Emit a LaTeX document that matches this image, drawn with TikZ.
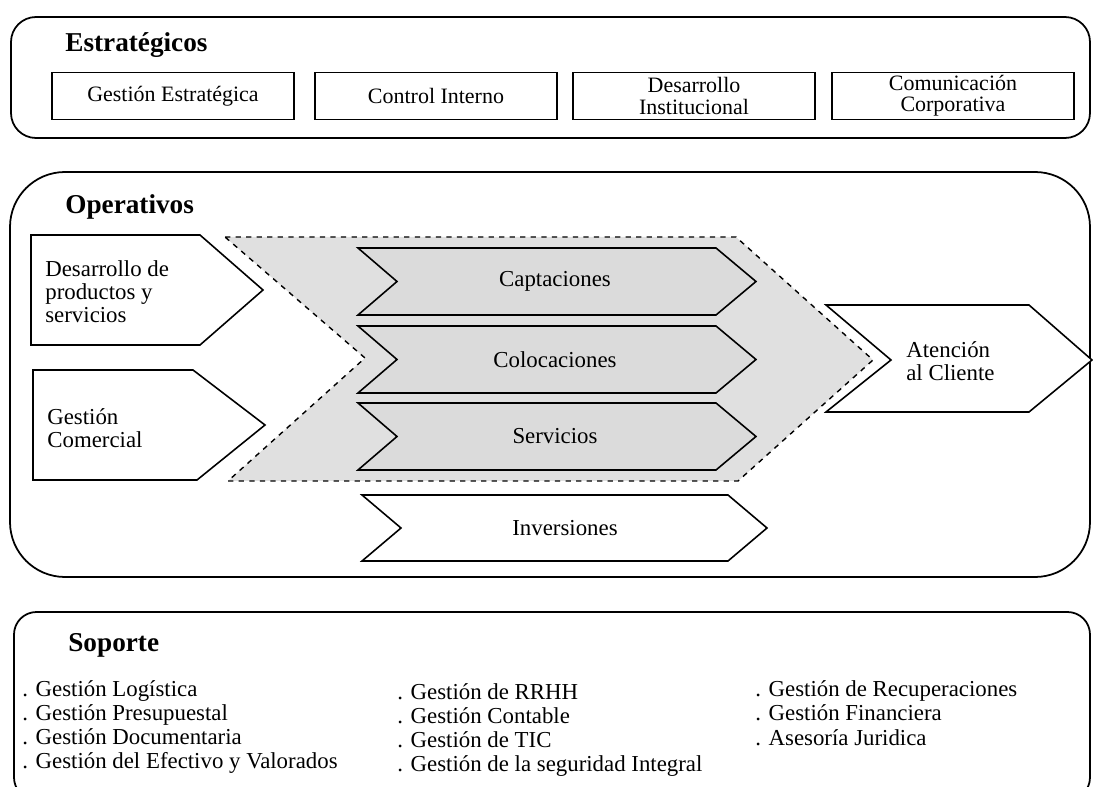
\documentclass[tikz,border=0pt]{standalone}
\usepackage{fontspec}
\setmainfont{Liberation Serif}

\begin{document}
\begin{tikzpicture}[x=0.02cm,y=-0.02cm,
    marco/.style={draw,line width=1pt},
    caja/.style={draw,line width=0.9pt,minimum width=4.84cm,minimum height=0.94cm,
      inner sep=1pt,align=center,font=\fontsize{12.5}{12}\selectfont},
    flecha/.style={draw,line width=0.9pt,line join=miter},
    gris/.style={flecha,fill=black!14},
    texto/.style={font=\fontsize{13}{13}\selectfont,align=left,inner sep=0pt},
    lista/.style={font=\fontsize{13}{13.8}\selectfont,align=left,inner sep=0pt,anchor=west},
    titulo/.style={font=\fontsize{15.5}{18}\selectfont\bfseries,inner sep=0pt,anchor=west}]

    \useasboundingbox (0,0) rectangle (1093,787);

    % estrategicos
    \draw[marco,rounded corners=0.5cm] (11,17) rectangle (1090,138);
    \node[titulo] (estr) at (65,45) {Estratégicos};
    \foreach \x/\n/\t in {173/ges/Gestión Estratégica, 436/con/Control Interno,
      694/des/Desarrollo\\Institucional, 953/com/Comunicación\\Corporativa}
      \node[caja] (\n) at (\x,96) {\t};

    % operativos
    \draw[marco,rounded corners=1.1cm] (10,172) rectangle (1090,577);
    \node[titulo] (oper) at (65,207) {Operativos};

    \draw[dashed,line width=0.8pt,fill=black!12] (225,237) -- (736,237) -- (873,360)
      -- (738,481) -- (228,481) -- (365,358) -- cycle;

    \draw[flecha,fill=white] (31,235) -- (200,235) -- (263,290) -- (200,345) -- (31,345) -- cycle;
    \node[texto,anchor=west] (dps) at (45,292) {Desarrollo de\\productos y\\servicios};
    \draw[flecha,fill=white] (33,370) -- (193,370) -- (265,425) -- (197,480) -- (33,480) -- cycle;
    \node[texto,anchor=west] (gco) at (47,428) {Gestión\\Comercial};

    \foreach \y/\n/\t in {248/cap/Captaciones, 326/col/Colocaciones, 403/ser/Servicios}{
      \draw[gris] (358,\y) -- (716,\y) -- (756,\y+33.5) -- (716,\y+67) -- (358,\y+67)
        -- (397,\y+33.5) -- cycle;
      \node[texto] (\n) at (555,\y+33.5) {\t};
    }

    \draw[flecha,fill=white] (362,495) -- (728,495) -- (767,528) -- (728,561) -- (362,561)
      -- (401,528) -- cycle;
    \node[texto] (inv) at (565,528) {Inversiones};

    \draw[flecha,fill=white] (826,305) -- (1029,305) -- (1092,360) -- (1029,412) -- (826,412)
      -- (891,360) -- cycle;
    \node[texto,anchor=west] (ate) at (906,361) {Atención\\al Cliente};

    % soporte
    \draw[marco,rounded corners=0.45cm] (14,612) rectangle (1090,800);
    \node[titulo] (sop) at (68,645) {Soporte};
    \node[lista] (sopa) at (22,727) {. Gestión Logística\\. Gestión Presupuestal\\
      . Gestión Documentaria\\. Gestión del Efectivo y Valorados};
    \node[lista] (sopb) at (397,730) {. Gestión de RRHH\\. Gestión Contable\\
      . Gestión de TIC\\. Gestión de la seguridad Integral};
    \node[lista] (sopc) at (755,713) {. Gestión de Recuperaciones\\. Gestión Financiera\\
      . Asesoría Juridica};

\end{tikzpicture}
\end{document}
